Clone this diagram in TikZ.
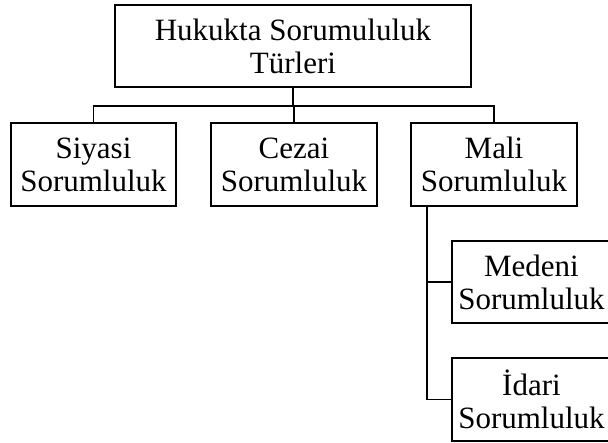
\documentclass[tikz,border=0pt]{standalone}
\usepackage{fontspec}
\setmainfont{Liberation Serif}
\begin{document}
\begin{tikzpicture}[x=1pt,y=-1pt,
  box/.style={draw, line width=1.7pt, inner sep=0pt, align=center,
    font=\fontsize{31}{33}\selectfont},
  conn/.style={line width=1.7pt}]
\clip (0,0) rectangle (608,443);
\node[box, minimum width=356, minimum height=82] (top) at (293,46) {Hukukta Sorumululuk\\Türleri};
\node[box, minimum width=165, minimum height=83] (siyasi) at (93.5,164.5) {Siyasi\\Sorumluluk};
\node[box, minimum width=166, minimum height=83] (cezai) at (294,164.5) {Cezai\\Sorumluluk};
\node[box, minimum width=166, minimum height=83] (mali) at (494,164.5) {Mali\\Sorumluluk};
\node[box, minimum width=159, minimum height=82] (medeni) at (531.5,282) {Medeni\\Sorumluluk};
\node[box, minimum width=159, minimum height=83] (idari) at (531.5,399.5) {İdari\\Sorumluluk};
\coordinate (bus) at (0,106);
\coordinate (malidown) at ([xshift=17pt]mali.south west);
\draw[conn] (top.south) -- (top.south |- bus);
\draw[conn] (siyasi.north) -- (siyasi.north |- bus) -- (mali.north |- bus) -- (mali.north);
\draw[conn] (cezai.north) -- (cezai.north |- bus);
\draw[conn] (malidown) |- (idari.west);
\draw[conn] (malidown |- medeni.west) -- (medeni.west);
\end{tikzpicture}
\end{document}
